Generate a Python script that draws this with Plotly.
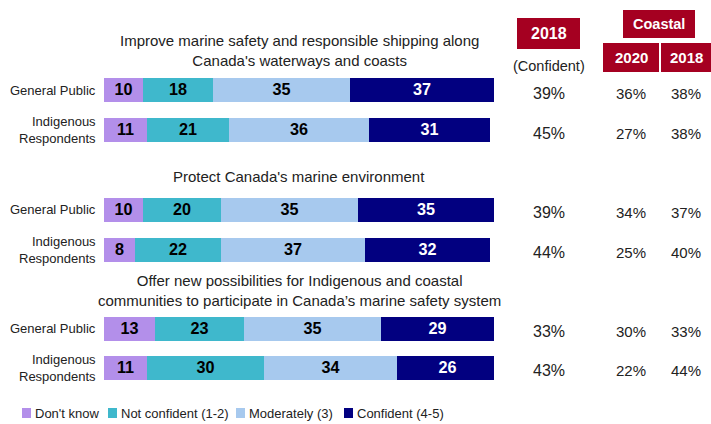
import plotly.graph_objects as go

# Survey results: confidence that the plan will achieve each goal
series_names = ["Don't know", "Not confident (1-2)", "Moderately (3)", "Confident (4-5)"]
series_colors = ["#B38FEA", "#3FB8CC", "#A7C9EE", "#020080"]
label_colors = ["black", "black", "black", "white"]

groups = [
    "Improve marine safety and responsible shipping along<br>Canada's waterways and coasts",
    "Protect Canada's marine environment",
    "Offer new possibilities for Indigenous and coastal<br>communities to participate in Canada\u2019s marine safety system",
]
row_labels = ["General Public", "Indigenous<br>Respondents"] * 3

dont_know = [10, 11, 10, 8, 13, 11]
not_confident = [18, 21, 20, 22, 23, 30]
moderately = [35, 36, 35, 37, 35, 34]
confident = [37, 31, 35, 32, 29, 26]

confident_2018 = ["39%", "45%", "39%", "44%", "33%", "43%"]
coastal_2020 = ["36%", "27%", "34%", "25%", "30%", "22%"]
coastal_2018 = ["38%", "38%", "37%", "40%", "33%", "44%"]

# vertical layout (pixel-like units, top = 0)
W, H = 711, 424
row_pos = [90, 130, 209.5, 249.5, 328.5, 367.5]
group_title_pos = [50, 176, 290]
X0, X1 = 104, 494  # bar area in pixels

FONT = "Liberation Sans, Arial, sans-serif"
TXT = "#222"

fig = go.Figure()
values = [dont_know, not_confident, moderately, confident]
for name, vals, col, lc in zip(series_names, values, series_colors, label_colors):
    fig.add_trace(go.Bar(
        orientation="h", y=row_pos, x=vals, name=name,
        marker=dict(color=col, line=dict(width=0)),
        width=24, text=[str(v) for v in vals], textposition="inside",
        insidetextanchor="middle", textangle=0,
        textfont=dict(family=FONT, size=18, color=lc, weight="bold"),
        showlegend=False, hoverinfo="skip",
    ))

def px(x):
    return x / W

ann = []
# row labels
for y, lab in zip(row_pos, row_labels):
    ann.append(dict(x=px(98), y=y, xref="paper", yref="y", text=lab, showarrow=False,
                    xanchor="right", yanchor="middle", align="right",
                    font=dict(family=FONT, size=13, color=TXT)))
# group titles
for y, t in zip(group_title_pos, groups):
    ann.append(dict(x=px((X0 + X1) / 2), y=y, xref="paper", yref="y", text=t, showarrow=False,
                    xanchor="center", yanchor="middle", align="center",
                    font=dict(family=FONT, size=15, color=TXT)))
# percentage columns
for col_x, vals, size in [(549, confident_2018, 16), (631, coastal_2020, 15), (686, coastal_2018, 15)]:
    for y, v in zip(row_pos, vals):
        ann.append(dict(x=px(col_x), y=y + 3, xref="paper", yref="y", text=v, showarrow=False,
                        xanchor="center", yanchor="middle",
                        font=dict(family=FONT, size=size, color=TXT)))

# header boxes
shapes = []
RED = "#A50021"
headers = [(517, 580, 18, 49, "2018", 16), (623, 695, 10, 38, "Coastal", 14.5),
           (603, 659, 43, 72, "2020", 15), (661, 711, 43, 72, "2018", 15)]
for x0, x1, y0, y1, t, fs in headers:
    shapes.append(dict(type="rect", xref="paper", yref="y", x0=px(x0), x1=px(x1), y0=y0, y1=y1,
                       fillcolor=RED, line=dict(width=0), layer="below"))
    ann.append(dict(x=px((x0 + x1) / 2), y=(y0 + y1) / 2, xref="paper", yref="y", text=t,
                    showarrow=False, xanchor="center", yanchor="middle",
                    font=dict(family=FONT, size=fs, color="white", weight="bold")))
ann.append(dict(x=px(549), y=66, xref="paper", yref="y", text="(Confident)", showarrow=False,
                xanchor="center", yanchor="middle", font=dict(family=FONT, size=14.5, color=TXT)))

# legend row
legend_x = [22, 108, 236, 344]
for lx, name, col in zip(legend_x, series_names, series_colors):
    shapes.append(dict(type="rect", xref="paper", yref="y", x0=px(lx), x1=px(lx + 9), y0=408, y1=418,
                       fillcolor=col, line=dict(width=0)))
    ann.append(dict(x=px(lx + 11), y=413, xref="paper", yref="y", text=name, showarrow=False,
                    xanchor="left", yanchor="middle", font=dict(family=FONT, size=13, color=TXT)))

fig.update_layout(
    width=W, height=H, margin=dict(l=0, r=0, t=0, b=0),
    paper_bgcolor="white", plot_bgcolor="white",
    barmode="stack", bargap=0,
    xaxis=dict(domain=[px(X0), px(X1)], range=[0, 100], visible=False, fixedrange=True),
    yaxis=dict(domain=[0, 1], range=[H, 0], visible=False, fixedrange=True),
    annotations=ann, shapes=shapes,
    uniformtext=dict(mode="show", minsize=8),
)

fig.write_html("out.html")
